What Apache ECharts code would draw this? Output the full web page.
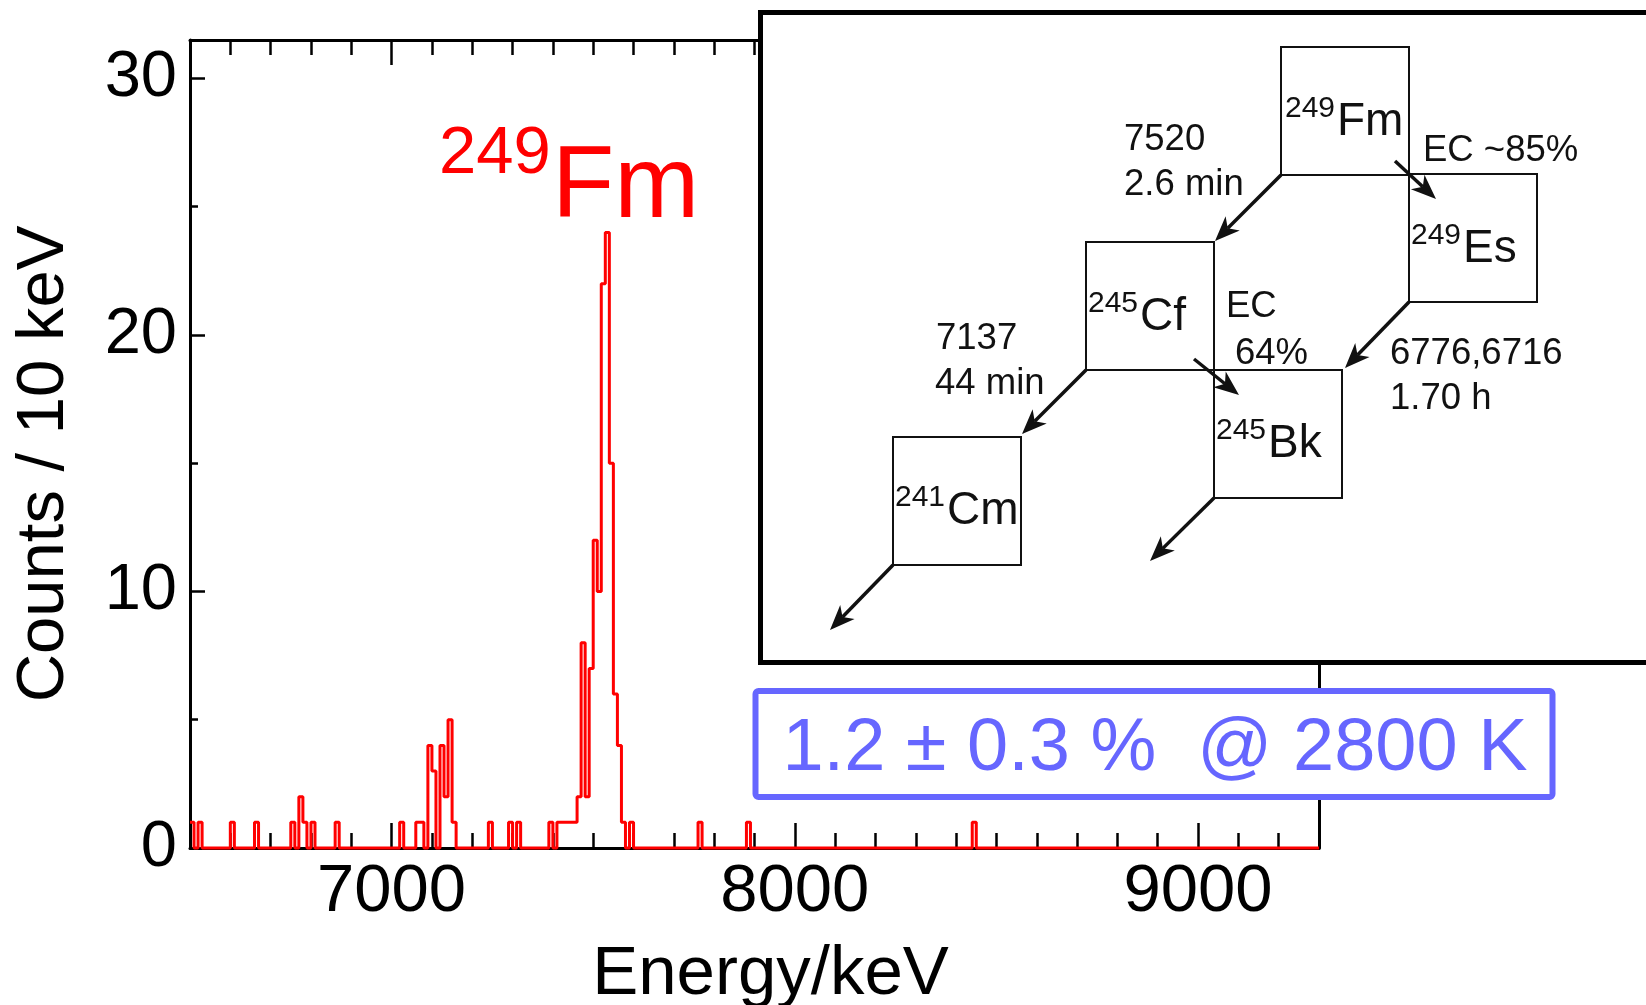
<!DOCTYPE html>
<html>
<head>
<meta charset="utf-8">
<title>249Fm alpha spectrum</title>
<script src="https://cdn.jsdelivr.net/npm/echarts@6/dist/echarts.min.js"></script>
<style>
  html, body { margin: 0; padding: 0; background: #ffffff; }
  #chart { width: 1646px; height: 1005px; }
</style>
</head>
<body>
<div id="chart"></div>
<script>
// Alpha-particle energy spectrum, 10 keV bins
const binWidth = 10;
const energyMin = 6500;
const energyMax = 9300;
const countsMax = 31.5;

// Non-empty bins: lower bin edge (keV) and number of counts
const binEdges = [
  6500, 6520, 6600, 6660, 6750, 6770, 6780, 6800, 6860,
  7020, 7060, 7070, 7090, 7100, 7120, 7130, 7140, 7150,
  7240, 7290, 7310, 7390,
  7410, 7420, 7430, 7440, 7450, 7460,
  7470, 7480, 7490, 7500, 7510, 7520, 7530, 7540, 7550, 7560, 7570,
  7590, 7760, 7880, 8440
];
const binCounts = [
  1, 1, 1, 1, 1, 2, 1, 1, 1,
  1, 1, 1, 4, 3, 4, 2, 5, 1,
  1, 1, 1, 1,
  1, 1, 1, 1, 1, 2,
  8, 2, 7, 12, 10, 22, 24, 15, 6, 4, 1,
  1, 1, 1, 1
];

// Tick labels
const xMajorTicks = [7000, 8000, 9000];
const yMajorTicks = [0, 10, 20, 30];
const yMinorTicks = [5, 15, 25];

const FONT = "'Liberation Sans', Arial, Helvetica, sans-serif";
const INK = '#111111';
// distance from the text's vertical middle down to its alphabetic baseline, in em
const MID_TO_BASE = 0.29;

// Expand the sparse bin list into a full step histogram
const countByEdge = new Map(binEdges.map((e, i) => [e, binCounts[i]]));
const spectrum = [];
for (let e = energyMin; e < energyMax; e += binWidth) {
  spectrum.push([e, countByEdge.get(e) || 0]);
}
spectrum.push([energyMax, spectrum[spectrum.length - 1][1]]);

// ---- annotation helpers ----
function label(text, left, baseline, size, color, align) {
  return {
    type: 'text', x: left, y: baseline - MID_TO_BASE * size, z: 110,
    style: {
      text: text, fontSize: size, fontFamily: FONT, fill: color || INK,
      align: align || 'left', verticalAlign: 'middle',
      textAlign: align || 'left', textVerticalAlign: 'middle'
    }
  };
}
function nuclide(mass, symbol, left, baseline) {
  const sup = label(mass, left, baseline - 19, 30);
  const main = label(symbol, left + 52, baseline, 46);
  return [sup, main];
}
function box(x, y, size) {
  return {
    type: 'rect', z: 104,
    shape: { x: x, y: y, width: size, height: size },
    style: { fill: 'none', stroke: INK, lineWidth: 2 }
  };
}
function arrow(x1, y1, x2, y2) {
  const dx = x2 - x1, dy = y2 - y1, len = Math.hypot(dx, dy);
  const ux = dx / len, uy = dy / len, px = -uy, py = ux;
  const L = 25, W = 10, N = 7;
  const bx = x2 - ux * L, by = y2 - uy * L;
  const nx = x2 - ux * (L - N), ny = y2 - uy * (L - N);
  return [
    { type: 'line', z: 105, shape: { x1: x1, y1: y1, x2: nx, y2: ny },
      style: { stroke: INK, lineWidth: 3.5 } },
    { type: 'polygon', z: 106,
      shape: { points: [[x2, y2], [bx + px * W, by + py * W], [nx, ny], [bx - px * W, by - py * W]] },
      style: { fill: INK } }
  ];
}

// ---- decay-scheme inset ----
const B = 128;
const SMALL = 36.5;
const insetGraphics = [
  { type: 'rect', z: 100, shape: { x: 760.5, y: 12.5, width: 920, height: 650 },
    style: { fill: '#ffffff', stroke: '#000000', lineWidth: 5 } },
  box(1281, 47, B), box(1409, 174, B), box(1086, 242, B), box(1214, 370, B), box(893, 437, B),
  ...nuclide('249', 'Fm', 1285, 136),
  ...nuclide('249', 'Es', 1411, 263),
  ...nuclide('245', 'Cf', 1088, 331),
  ...nuclide('245', 'Bk', 1216, 458),
  ...nuclide('241', 'Cm', 895, 525),
  label('7520', 1124, 151, SMALL),
  label('2.6 min', 1124, 195.5, SMALL),
  label('EC ~85%', 1423, 162, SMALL),
  label('EC', 1226, 318, SMALL),
  label('64%', 1235, 365, SMALL),
  label('6776,6716', 1390, 365, SMALL),
  label('1.70 h', 1390, 410, SMALL),
  label('7137', 936, 350, SMALL),
  label('44 min', 935, 395, SMALL),
  ...arrow(1281, 175, 1215, 241),
  ...arrow(1395, 161, 1436, 199),
  ...arrow(1409, 302, 1345, 368),
  ...arrow(1194, 359, 1239, 395),
  ...arrow(1086, 370, 1022, 434),
  ...arrow(1214, 498, 1150, 561),
  ...arrow(893, 565, 830, 630)
];

// ---- peak label and yield box ----
const extraGraphics = [
  label('249', 439, 174, 67, '#ff0000'),
  label('Fm', 552, 218, 102, '#ff0000'),
  { type: 'rect', z: 100,
    shape: { x: 755.5, y: 691, width: 797, height: 106, r: 3 },
    style: { fill: '#ffffff', stroke: '#6666ff', lineWidth: 6 } },
  label('1.2 \u00b1 0.3 %  @ 2800 K', 1155, 771, 74, '#6666ff', 'center')
];

// ---- axes ----
const lineStyleBlack = { color: '#000000', width: 3 };
const tickStyle = { color: '#000000', width: 2.5 };
function energyAxis(pos, opts) {
  return Object.assign({
    type: 'value', gridIndex: 0, position: pos, min: energyMin, max: energyMax,
    splitLine: { show: false },
    axisLine: { show: false, onZero: false, lineStyle: lineStyleBlack },
    axisTick: { show: false },
    axisLabel: { show: false }
  }, opts);
}
function countAxis(pos, opts) {
  return Object.assign({
    type: 'value', gridIndex: 0, position: pos, min: 0, max: countsMax,
    splitLine: { show: false },
    axisLine: { show: false, onZero: false, lineStyle: lineStyleBlack },
    axisTick: { show: false },
    axisLabel: { show: false }
  }, opts);
}

const option = {
  animation: false,
  backgroundColor: '#ffffff',
  grid: { left: 190, top: 40, width: 1129, height: 808, containLabel: false, outerBoundsMode: 'none' },
  xAxis: [
    energyAxis('bottom', {
      axisLine: { show: true, onZero: false, lineStyle: lineStyleBlack },
      axisTick: { show: true, inside: true, length: 25, customValues: xMajorTicks, lineStyle: tickStyle },
      axisLabel: { show: true, customValues: xMajorTicks, fontSize: 67, margin: 11,
                   color: '#000000', fontFamily: FONT, formatter: v => String(v) },
      name: 'Energy/keV', nameLocation: 'middle', nameGap: 92,
      nameTextStyle: { fontSize: 69, color: '#000000', fontFamily: FONT, padding: [0, 0, 0, 32] }
    }),
    energyAxis('bottom', {
      interval: 100,
      axisTick: { show: true, inside: true, length: 15, lineStyle: tickStyle }
    }),
    energyAxis('top', {
      axisLine: { show: true, onZero: false, lineStyle: lineStyleBlack },
      axisTick: { show: true, inside: true, length: 25, customValues: xMajorTicks, lineStyle: tickStyle }
    }),
    energyAxis('top', {
      interval: 100,
      axisTick: { show: true, inside: true, length: 15, lineStyle: tickStyle }
    })
  ],
  yAxis: [
    countAxis('left', {
      axisLine: { show: true, onZero: false, lineStyle: lineStyleBlack },
      axisTick: { show: true, inside: true, length: 15, customValues: yMajorTicks, lineStyle: tickStyle },
      axisLabel: { show: true, customValues: yMajorTicks, fontSize: 65, margin: 13,
                   color: '#000000', fontFamily: FONT, formatter: v => String(v) },
      name: 'Counts / 10 keV', nameLocation: 'middle', nameGap: 112,
      nameTextStyle: { fontSize: 67, color: '#000000', fontFamily: FONT, padding: [0, 40, 0, 0] }
    }),
    countAxis('left', {
      axisTick: { show: true, inside: true, length: 8, customValues: yMinorTicks, lineStyle: tickStyle }
    }),
    countAxis('right', {
      axisLine: { show: true, onZero: false, lineStyle: lineStyleBlack },
      axisTick: { show: true, inside: true, length: 15, customValues: yMajorTicks, lineStyle: tickStyle }
    }),
    countAxis('right', {
      axisTick: { show: true, inside: true, length: 8, customValues: yMinorTicks, lineStyle: tickStyle }
    })
  ],
  series: [{
    name: '249Fm spectrum',
    type: 'line',
    xAxisIndex: 0,
    yAxisIndex: 0,
    step: 'end',
    data: spectrum,
    symbol: 'none',
    showSymbol: false,
    clip: false,
    z: 5,
    lineStyle: { color: '#ff0000', width: 3 }
  }],
  graphic: { elements: extraGraphics.concat(insetGraphics) }
};

const chart = echarts.init(document.getElementById('chart'), null, { renderer: 'canvas' });
chart.setOption(option);
</script>
</body>
</html>
